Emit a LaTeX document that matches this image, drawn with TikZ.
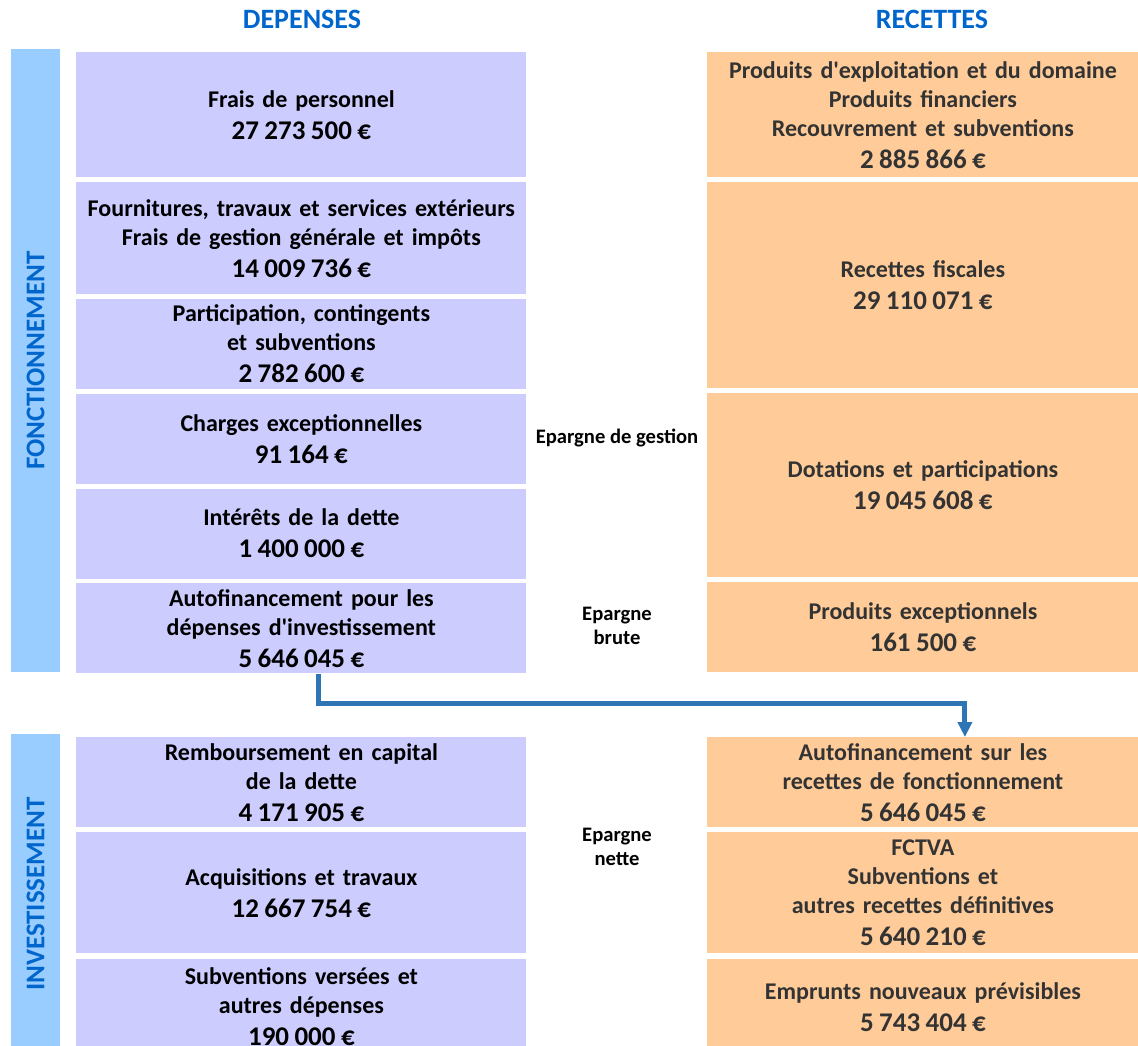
\documentclass[tikz,border=0pt]{standalone}
\usepackage{fontspec}
\setmainfont{Carlito}
\usetikzlibrary{positioning,arrows.meta}
\definecolor{depfill}{HTML}{CCCCFF}
\definecolor{recfill}{HTML}{FFCC99}
\definecolor{bandfill}{HTML}{99CCFF}
\definecolor{titreblue}{HTML}{0066CC}
\definecolor{rectext}{HTML}{333333}
\definecolor{fleche}{HTML}{2E75B6}
\tikzstyle{dep} = [rectangle, fill=depfill, minimum width=225pt, text width=222pt, align=center,
inner sep=0pt, font=\bfseries\fontsize{12}{14.5}\selectfont]
\tikzstyle{rec} = [rectangle, fill=recfill, minimum width=215.5pt, text width=212pt, align=center,
inner sep=0pt, text=rectext, font=\bfseries\fontsize{12}{14.5}\selectfont]
\tikzstyle{bande} = [rectangle, fill=bandfill, rotate=90, minimum height=24.5pt, inner sep=0pt,
text=titreblue, font=\bfseries\fontsize{13.5}{16}\selectfont]
\tikzstyle{titre} = [inner sep=0pt, text=titreblue, font=\bfseries\fontsize{14}{17}\selectfont]
\tikzstyle{epargne} = [inner sep=0pt, align=center, font=\bfseries\fontsize{10.3}{12}\selectfont]
\tikzstyle{arrow} = [line width=2.5pt, draw=fleche, -{Triangle[width=7pt,length=7.5pt]}]
\newcommand{\eur}[1]{\\[1.5pt]{\fontsize{13.5}{15}\selectfont\spaceskip=0.2em #1 €}}

\begin{document}
\begin{tikzpicture}[x=0.5pt, y=-0.5pt]
        \useasboundingbox (0,0) rectangle (1138,1045);

        \node[titre] (depenses) at (302,19) {DEPENSES};
        \node[titre] (recettes) at (932,19) {RECETTES};

        \node[bande, minimum width=311.5pt] (fonct) at (35.5,360.5) {FONCTIONNEMENT};
        \node[bande, minimum width=160pt] (invest) at (35.5,894) {INVESTISSEMENT};

        \node[dep, minimum height=62.5pt, anchor=north west] (pers) at (76,52) {Frais de personnel\eur{27 273 500}};
        \node[dep, minimum height=56pt, below=2pt of pers] (fourn) {Fournitures, travaux et services extérieurs\\Frais de gestion générale et impôts\eur{14 009 736}};
        \node[dep, minimum height=45pt, below=2pt of fourn] (partic) {Participation, contingents\\et subventions\eur{2 782 600}};
        \node[dep, minimum height=45pt, below=2pt of partic] (charges) {Charges exceptionnelles\eur{91 164}};
        \node[dep, minimum height=45pt, below=2pt of charges] (interets) {Intérêts de la dette\eur{1 400 000}};
        \node[dep, minimum height=45pt, below=2pt of interets] (autofin) {Autofinancement pour les\\dépenses d\textquotesingle investissement\eur{5 646 045}};

        \node[rec, minimum height=62.5pt, anchor=north west] (prod) at (707,52) {Produits d\textquotesingle exploitation et du domaine\\Produits financiers\\Recouvrement et subventions\eur{2 885 866}};
        \node[rec, minimum height=103pt, below=2pt of prod] (fisc) {Recettes fiscales\eur{29 110 071}};
        \node[rec, minimum height=92pt, below=2pt of fisc] (dotat) {Dotations et participations\eur{19 045 608}};
        \node[rec, minimum height=45pt, below=2pt of dotat] (prodexc) {Produits exceptionnels\eur{161 500}};

        \node[dep, minimum height=45pt, anchor=north west] (remb) at (76,737) {Remboursement en capital\\de la dette\eur{4 171 905}};
        \node[dep, minimum height=60.5pt, below=2pt of remb] (acquis) {Acquisitions et travaux\eur{12 667 754}};
        \node[dep, minimum height=48pt, below=2.5pt of acquis] (subv) {Subventions versées et\\autres dépenses\eur{190 000}};

        \node[rec, minimum height=45pt, anchor=north west] (autorec) at (707,737) {Autofinancement sur les\\recettes de fonctionnement\eur{5 646 045}};
        \node[rec, minimum height=60.5pt, below=2pt of autorec] (fctva) {FCTVA\\Subventions et\\autres recettes définitives\eur{5 640 210}};
        \node[rec, minimum height=48pt, below=2.5pt of fctva] (emprunts) {Emprunts nouveaux prévisibles\eur{5 743 404}};

        \node[epargne] (gestion) at (617,438) {Epargne de gestion};
        \node[epargne] (brute) at (617,626) {Epargne\\brute};
        \node[epargne] (nette) at (617,847) {Epargne\\nette};

        \draw[arrow] ([xshift=8.5pt]autofin.south) -- ++(0,-15pt) -| ([xshift=21pt]autorec.north);

    \end{tikzpicture}
\end{document}
